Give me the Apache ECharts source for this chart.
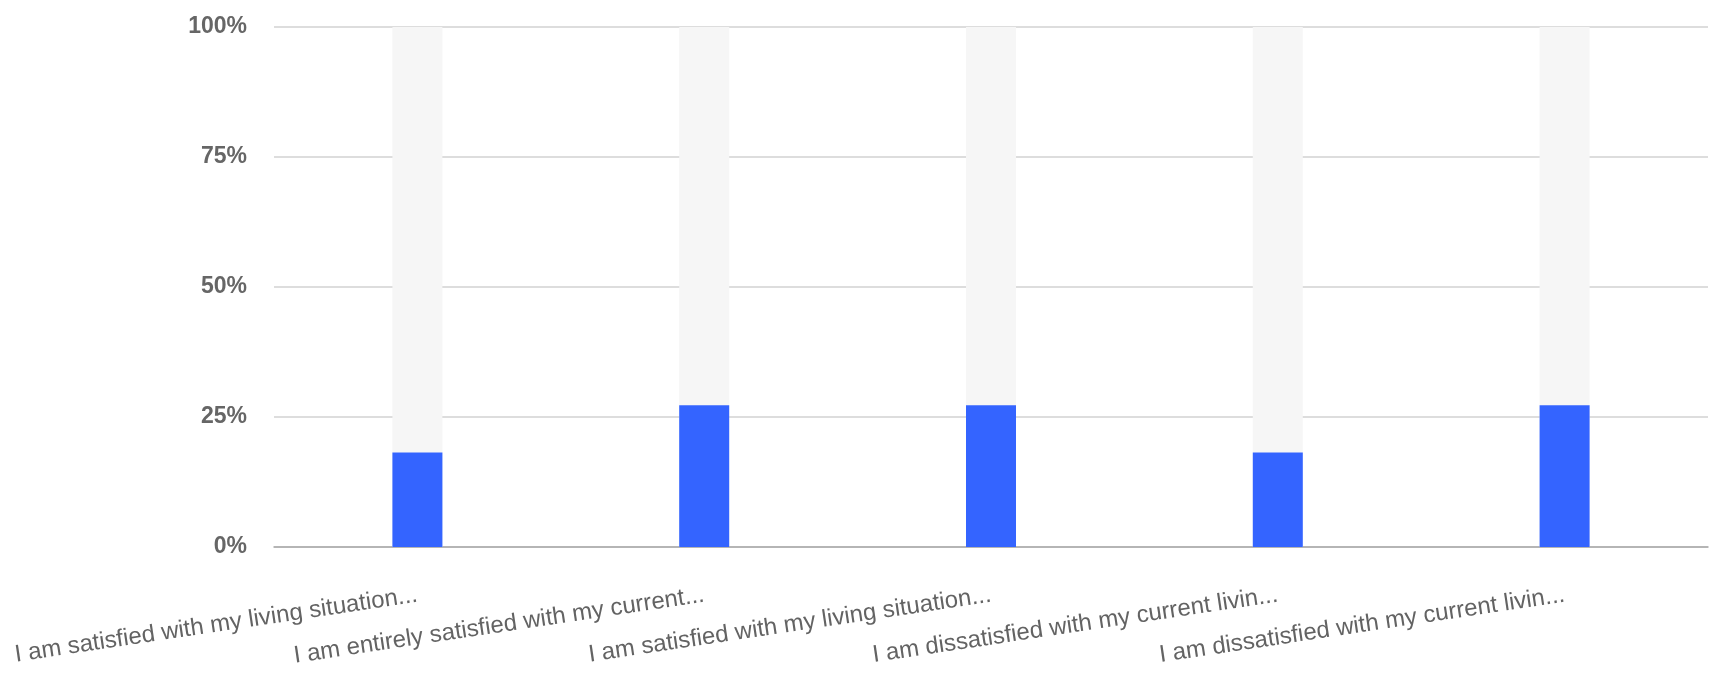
<!DOCTYPE html>
<html>
<head>
<meta charset="utf-8">
<title>Living situation satisfaction</title>
<script src="https://cdn.jsdelivr.net/npm/echarts@6/dist/echarts.min.js"></script>
<style>
  html, body { margin: 0; padding: 0; background: #ffffff; }
  #chart { width: 1711px; height: 674px; }
</style>
</head>
<body>
<div id="chart"></div>
<script>
// Answer options (shown truncated, as in the survey summary)
const categories = [
  'I am satisfied with my living situation...',
  'I am entirely satisfied with my current...',
  'I am satisfied with my living situation...',
  'I am dissatisfied with my current livin...',
  'I am dissatisfied with my current livin...'
];
// Share of respondents choosing each option, in percent
const shares = [18.18, 27.27, 27.27, 18.18, 27.27];
// Value axis ticks
const yTicks = [0, 25, 50, 75, 100];

const chart = echarts.init(document.getElementById('chart'), null, { renderer: 'canvas' });

chart.setOption({
  animation: false,
  backgroundColor: '#ffffff',
  grid: { left: 274, right: 3, top: 27, bottom: 127, containLabel: false },
  xAxis: {
    type: 'category',
    data: categories,
    axisLine: { show: true, lineStyle: { color: '#a8a8a8', width: 1.5 } },
    axisTick: { show: false },
    axisLabel: {
      interval: 0,
      rotate: 8.5,
      margin: 48,
      color: '#636363',
      fontFamily: 'Liberation Sans, Arial, sans-serif',
      fontSize: 24
    }
  },
  yAxis: {
    type: 'value',
    min: yTicks[0],
    max: yTicks[yTicks.length - 1],
    interval: 25,
    axisLine: { show: false },
    axisTick: { show: false },
    splitLine: { lineStyle: { color: '#d2d2d2', width: 1.5 } },
    axisLabel: {
      margin: 27,
      color: '#666666',
      fontWeight: 'bold',
      fontFamily: 'Liberation Sans, Arial, sans-serif',
      fontSize: 23,
      formatter: v => v + '%'
    }
  },
  series: [{
    type: 'bar',
    data: shares,
    barWidth: 50,
    itemStyle: { color: '#3464ff' },
    showBackground: true,
    backgroundStyle: { color: '#f6f6f6' }
  }]
});
</script>
</body>
</html>
